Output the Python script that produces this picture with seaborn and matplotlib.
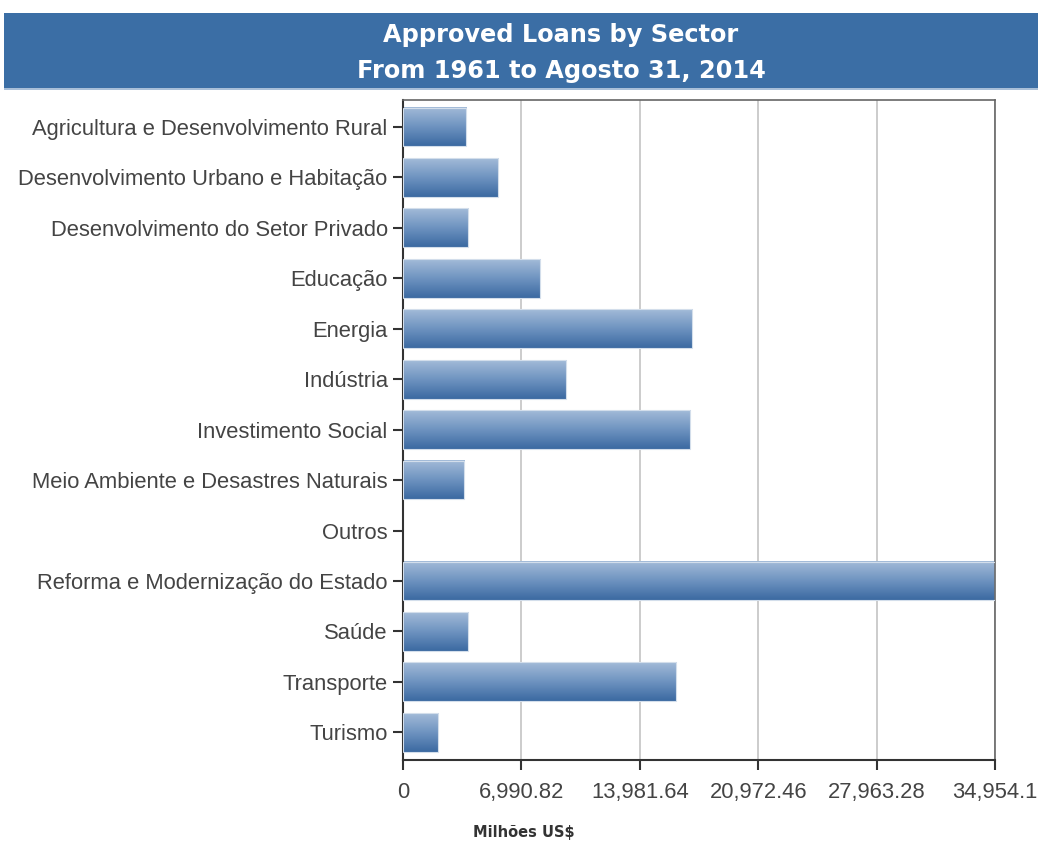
import numpy as np
import pandas as pd
import matplotlib
matplotlib.use("Agg")
import matplotlib.pyplot as plt
import seaborn as sns
from matplotlib.colors import LinearSegmentedColormap
from matplotlib.patches import Rectangle

sectors = [
    "Agricultura e Desenvolvimento Rural",
    "Desenvolvimento Urbano e Habitação",
    "Desenvolvimento do Setor Privado",
    "Educação",
    "Energia",
    "Indústria",
    "Investimento Social",
    "Meio Ambiente e Desastres Naturais",
    "Outros",
    "Reforma e Modernização do Estado",
    "Saúde",
    "Transporte",
    "Turismo",
]
values = [3720, 5630, 3860, 8090, 17080, 9640, 16960, 3620, 0, 34954.1, 3860, 16140, 2090]
tick_values = [0, 6990.82, 13981.64, 20972.46, 27963.28, 34954.1]
tick_labels = ["0", "6,990.82", "13,981.64", "20,972.46", "27,963.28", "34,954.1"]
title_lines = ["Approved Loans by Sector", "From 1961 to Agosto 31, 2014"]
x_label = "Milhões US$"

df = pd.DataFrame({"sector": sectors, "value": values})

sns.set_theme(style="white")
plt.rcParams["font.family"] = ["Liberation Sans", "DejaVu Sans"]

W, H = 1038, 841
fig = plt.figure(figsize=(W / 100, H / 100), dpi=100)
fig.patch.set_facecolor("white")

# title banner
fig.patches.append(Rectangle((4 / W, 1 - 88 / H), 1 - 4 / W, 75 / H, transform=fig.transFigure,
                             facecolor="#3b6ea5", edgecolor="none", zorder=0))
fig.patches.append(Rectangle((4 / W, 1 - 90 / H), 1 - 4 / W, 2 / H, transform=fig.transFigure,
                             facecolor="#a9bfd8", edgecolor="none", zorder=0))
fig.text(561 / W, 1 - 42 / H, title_lines[0], ha="center", va="baseline", color="white",
         fontsize=17.3, fontweight="bold", family="DejaVu Sans")
fig.text(561 / W, 1 - 78 / H, title_lines[1], ha="center", va="baseline", color="white",
         fontsize=17.3, fontweight="bold", family="DejaVu Sans")

ax = fig.add_axes([403 / W, 1 - 760 / H, (995 - 403) / W, (760 - 100) / H])
sns.barplot(data=df, x="value", y="sector", orient="h", color="#4f7db3", width=0.77, ax=ax)

ax.set_xlim(0, 34954.1)
ax.set_ylim(12.55, -0.535)
xl, yl = ax.get_xlim(), ax.get_ylim()

cmap = LinearSegmentedColormap.from_list("g", ["#a3bbd8", "#6e93c0", "#3b69a1"])
grad = np.linspace(0, 1, 256).reshape(-1, 1)
for p in list(ax.patches):
    x0, y0, w, h = p.get_x(), p.get_y(), p.get_width(), p.get_height()
    if w <= 0:
        continue
    ax.imshow(grad, extent=[x0, x0 + w, y0 + h, y0], origin="upper", aspect="auto",
              cmap=cmap, zorder=2, interpolation="bilinear")
    p.set_facecolor("none")
    p.set_edgecolor("#d3deeb")
    p.set_linewidth(0.8)
    p.set_zorder(3)
ax.set_xlim(xl)
ax.set_ylim(yl)

ax.set_xticks(tick_values)
ax.set_xticklabels(tick_labels)
ax.xaxis.grid(True, color="#c4c4c4", linewidth=1.2)
ax.set_axisbelow(True)
ax.set_xlabel("")
ax.set_ylabel("")

for s in ["left", "bottom"]:
    ax.spines[s].set_color("#333333")
    ax.spines[s].set_linewidth(1.5)
for s in ["top", "right"]:
    ax.spines[s].set_color("#666666")
    ax.spines[s].set_linewidth(1.2)
    ax.spines[s].set_visible(True)

ax.tick_params(axis="both", which="major", length=7, width=1.5, color="#333333",
               labelsize=15.8, labelcolor="#444444", direction="out")
ax.tick_params(axis="y", left=True, pad=4)
ax.tick_params(axis="x", bottom=True, pad=9)

fig.text(524 / W, 1 - 832 / H, x_label, ha="center", va="center", color="#333333",
         fontsize=10.5, fontweight="bold", family="DejaVu Sans")

fig.savefig("out.png", dpi=100)
